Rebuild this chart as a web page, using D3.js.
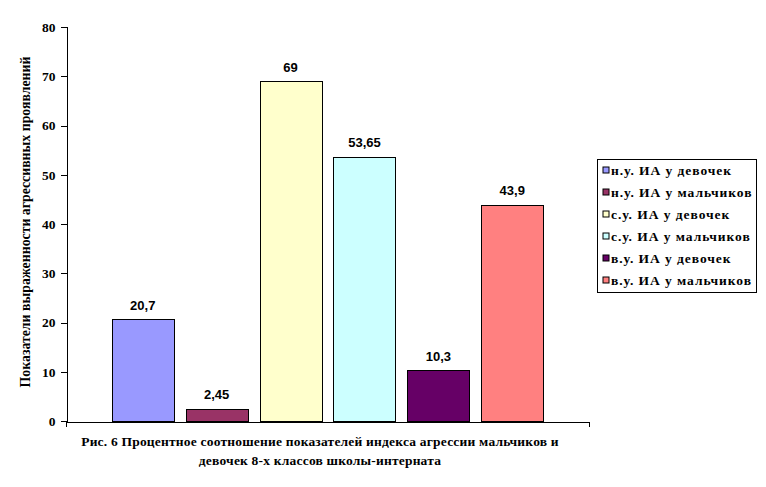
<!DOCTYPE html>
<html>
<head>
<meta charset="utf-8">
<script src="https://cdn.jsdelivr.net/npm/d3@7"></script>
<style>
  body { margin: 0; background: #fff; }
  svg { display: block; }
  .serif { font-family: "Liberation Serif", "Times New Roman", serif; font-weight: bold; }
  .sans { font-family: "Liberation Sans", Arial, sans-serif; font-weight: bold; }
</style>
</head>
<body>
<div id="chart"></div>
<script>
// chart data
const seriesNames = [
  "н.у. ИА у девочек",
  "н.у. ИА у мальчиков",
  "с.у. ИА у девочек",
  "с.у. ИА у мальчиков",
  "в.у. ИА у девочек",
  "в.у. ИА у мальчиков"
];
const values = [20.7, 2.45, 69, 53.65, 10.3, 43.9];
const valueLabels = ["20,7", "2,45", "69", "53,65", "10,3", "43,9"];
const colors = ["#9999FF", "#993366", "#FFFFCC", "#CCFFFF", "#660066", "#FF8080"];
const yTicks = [0, 10, 20, 30, 40, 50, 60, 70, 80];
const yTitle = "Показатели выраженности агрессивных проявлений";
const captionLines = [
  "Рис. 6 Процентное соотношение показателей индекса агрессии мальчиков и",
  "девочек 8-х классов школы-интерната"
];

const W = 766, H = 487;
const margin = { top: 27, right: 177, bottom: 66, left: 66 };
const width = W - margin.left - margin.right;
const height = H - margin.top - margin.bottom;

const svg = d3.select("#chart").append("svg")
  .attr("width", W)
  .attr("height", H);

const g = svg.append("g")
  .attr("transform", `translate(${margin.left}, ${margin.top})`);

const x = d3.scaleBand()
  .domain(seriesNames)
  .range([0, width])
  .paddingInner(0.162)
  .paddingOuter(0.62);

const y = d3.scaleLinear()
  .domain([0, 80])
  .range([height, 0]);

// bars
g.selectAll("rect.bar")
  .data(seriesNames)
  .enter()
  .append("rect")
  .attr("class", "bar")
  .attr("x", d => Math.round(x(d)) + 0.5)
  .attr("width", Math.round(x.bandwidth()))
  .attr("y", (d, i) => Math.round(y(values[i])) + 0.5)
  .attr("height", (d, i) => Math.round(height - y(values[i])))
  .style("fill", (d, i) => colors[i])
  .style("stroke", "#000")
  .style("stroke-width", 1);

// value labels
g.selectAll("text.val")
  .data(seriesNames)
  .enter()
  .append("text")
  .attr("class", "val sans")
  .attr("x", d => x(d) + x.bandwidth() / 2)
  .attr("y", (d, i) => y(values[i]) - 9.5)
  .attr("text-anchor", "middle")
  .style("font-size", "13px")
  .text((d, i) => valueLabels[i]);

// y axis
const yAxis = g.append("g")
  .attr("transform", "translate(0.5, 0)")
  .call(d3.axisLeft(y).tickValues(yTicks).tickSize(6).tickSizeOuter(6).tickPadding(5));
yAxis.attr("font-family", null).attr("font-size", null);
yAxis.selectAll("text")
  .attr("class", "serif")
  .style("font-size", "13.5px")
  .style("fill", "#000");
yAxis.selectAll("line, path").style("stroke", "#000").attr("shape-rendering", "crispEdges");

// x axis (single category, no labels)
const xAxis = g.append("g")
  .attr("transform", `translate(0, ${height + 0.5})`)
  .call(d3.axisBottom(d3.scaleLinear().range([0, width])).tickValues([]).tickSizeOuter(5));
xAxis.selectAll("path").style("stroke", "#000").attr("shape-rendering", "crispEdges");

// y title
svg.append("text")
  .attr("class", "serif")
  .attr("transform", "translate(30, 222) rotate(-90)")
  .attr("text-anchor", "middle")
  .style("font-size", "13.8px")
  .text(yTitle);

// caption
svg.selectAll("text.cap")
  .data(captionLines)
  .enter()
  .append("text")
  .attr("class", "cap serif")
  .attr("x", 320)
  .attr("y", (d, i) => 446 + i * 19)
  .attr("text-anchor", "middle")
  .style("font-size", "13.5px")
  .style("letter-spacing", "0.2px")
  .text(d => d);

// legend
const legend = svg.append("g").attr("transform", "translate(597.5, 159.5)");
legend.append("rect")
  .attr("width", 159)
  .attr("height", 133)
  .style("fill", "#fff")
  .style("stroke", "#000");

const items = legend.selectAll("g.item")
  .data(seriesNames)
  .enter()
  .append("g")
  .attr("class", "item")
  .attr("transform", (d, i) => `translate(0, ${7.5 + i * 22})`);

items.append("rect")
  .attr("x", 5.5)
  .attr("y", 0)
  .attr("width", 6)
  .attr("height", 6)
  .style("fill", (d, i) => colors[i])
  .style("stroke", "#000");

items.append("text")
  .attr("class", "serif")
  .attr("x", 13.5)
  .attr("y", 8)
  .style("font-size", "13.5px")
  .style("letter-spacing", "0.95px")
  .text(d => d);
</script>
</body>
</html>
